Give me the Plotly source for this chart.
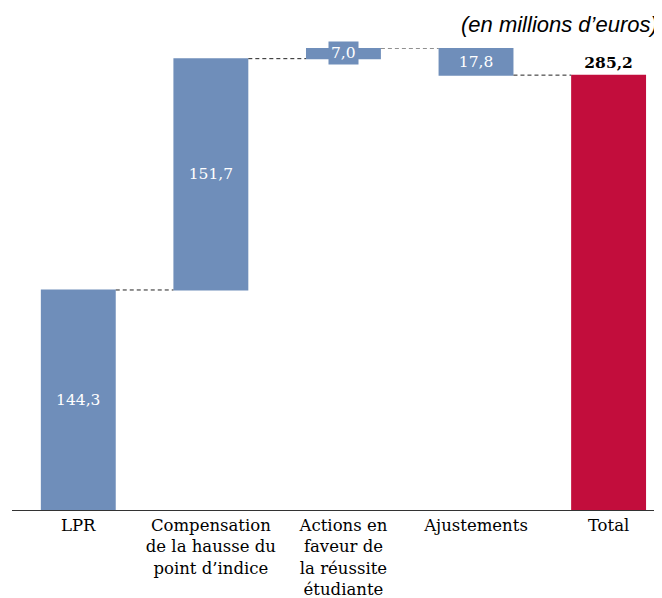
import plotly.graph_objects as go

categories = ["LPR", "Compensation<br>de la hausse du<br>point d’indice", "Actions en<br>faveur de<br>la réussite<br>étudiante", "Ajustements", "Total"]
values = [144.3, 151.7, 7.0, -17.8, 285.2]
measures = ["relative", "relative", "relative", "relative", "total"]
labels = ["144,3", "151,7", "7,0", "17,8", "285,2"]

BLUE = "#6F8EBA"
RED = "#C20D3C"
SERIF = "DejaVu Serif, serif"

# cumulative positions for label placement
cum = []
s = 0
for v, m in zip(values, measures):
    if m == "total":
        cum.append((0, v))
        s = v
    else:
        cum.append((s, s + v))
        s += v

texts = [labels[0], labels[1], "", labels[3], "<b>" + labels[4] + "</b>"]
textpos = ["inside", "inside", "none", "inside", "outside"]

fig = go.Figure(go.Waterfall(
    x=categories, y=values, measure=measures,
    text=texts, textposition=textpos, insidetextanchor="middle",
    insidetextfont=dict(color="white", size=15.5, family=SERIF),
    outsidetextfont=dict(color="black", size=15.5, family=SERIF),
    increasing=dict(marker=dict(color=BLUE)),
    decreasing=dict(marker=dict(color=BLUE)),
    totals=dict(marker=dict(color=RED)),
    connector=dict(line=dict(color="#222222", width=1, dash="4px,3px")),
    textangle=0, constraintext="none",
    cliponaxis=False,
))

# small-bar label with background box
lo, hi = cum[2]
fig.add_annotation(x=categories[2], y=(lo + hi) / 2, text=labels[2], showarrow=False,
                   font=dict(color="white", size=15.5, family=SERIF), bgcolor=BLUE,
                   borderpad=2)

fig.add_annotation(xref="paper", yref="paper", x=1.008, y=1.05, xanchor="right", yanchor="middle",
                   text="<i>(en millions d’euros)</i>", showarrow=False,
                   font=dict(color="black", size=22, family="Liberation Sans, Arial, sans-serif"))

fig.update_layout(
    width=662, height=598,
    margin=dict(l=4, r=15, t=40, b=96, autoexpand=False),
    plot_bgcolor="white", paper_bgcolor="white",
    waterfallgap=0.435,
    showlegend=False,
    xaxis=dict(range=[-0.5, 4.35], showline=True, linecolor="#333333", linewidth=1,
               ticks="", tickfont=dict(size=16.5, family=SERIF, color="black"), fixedrange=True,
               automargin=False),
    yaxis=dict(range=[0, 303], visible=False, fixedrange=True, automargin=False),
)

fig.write_html("out.html")
